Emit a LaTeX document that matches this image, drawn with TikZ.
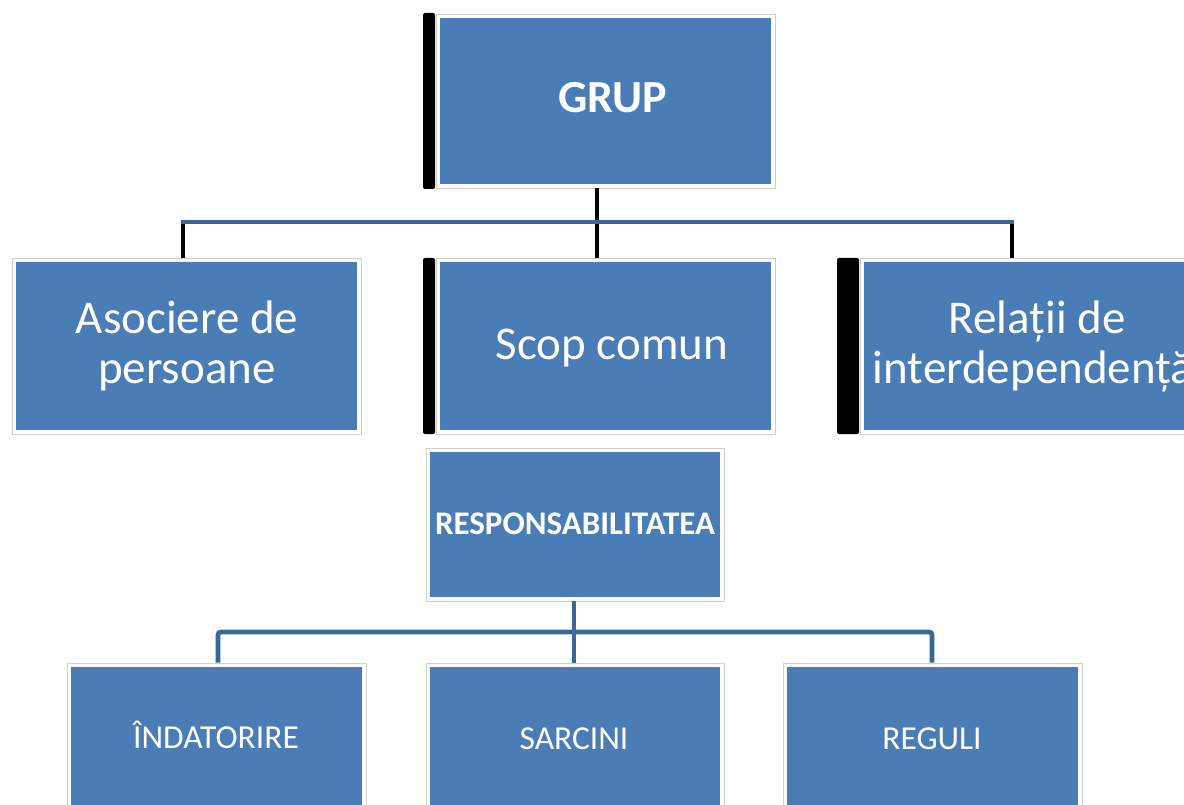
\documentclass[tikz,border=0pt]{standalone}
\usepackage{fontspec}
\setmainfont{Carlito}
\definecolor{boxblue}{HTML}{4A7DB5}
\definecolor{lineblue}{HTML}{3A6896}
\definecolor{framegray}{HTML}{D0D0D0}
\tikzset{
  frame/.style={draw=framegray, line width=0.8pt, fill=white, inner sep=0pt, rectangle},
  bluebox/.style={fill=boxblue, inner sep=0pt, rectangle},
  barbox/.style={fill=black, inner sep=0pt, rectangle, rounded corners=2pt},
  lbl/.style={text=white, inner sep=0pt, anchor=base},
  blkline/.style={draw=black, line width=4.8pt},
  blueline/.style={draw=lineblue, line width=4.8pt},
}
\begin{document}
\begin{tikzpicture}[x=1pt,y=-1pt]
\useasboundingbox (0,0) rectangle (1184,805);
\clip (0,0) rectangle (1184,805);
\fill[white] (0,0) rectangle (1184,805);

% ---- top level
\node[frame, minimum width=339pt, minimum height=174pt] (grupF) at (605.5,101) {};
\node[bluebox, minimum width=331pt, minimum height=166pt] (grup) at (605.5,101) {};
\node[barbox, minimum width=12pt, minimum height=176pt] (grupbar) at (429,101) {};
\node[lbl, font=\fontsize{46}{50}\selectfont\bfseries] (grupT) at (613,113) {GRUP};

% ---- second level
\node[frame, minimum width=349pt, minimum height=176pt] (asocF) at (186.5,346) {};
\node[bluebox, minimum width=341pt, minimum height=168pt] (asoc) at (186.5,346) {};
\node[lbl, font=\fontsize{47}{50}\selectfont] (asocT1) at (187,333) {Asociere de};
\node[lbl, font=\fontsize{47}{50}\selectfont] (asocT2) at (187,383) {persoane};

\node[frame, minimum width=339pt, minimum height=176pt] (scopF) at (605.5,346) {};
\node[bluebox, minimum width=331pt, minimum height=168pt] (scop) at (605.5,346) {};
\node[barbox, minimum width=12pt, minimum height=176pt] (scopbar) at (429,346) {};
\node[lbl, font=\fontsize{47}{50}\selectfont] (scopT) at (612,359) {Scop comun};

\node[frame, minimum width=354pt, minimum height=176pt] (relF) at (1037,346) {};
\node[bluebox, minimum width=346pt, minimum height=168pt] (rel) at (1037,346) {};
\node[barbox, minimum width=22pt, minimum height=176pt] (relbar) at (848,346) {};
\node[lbl, font=\fontsize{47}{50}\selectfont] (relT1) at (1037,333) {Relații de};
\node[lbl, font=\fontsize{47}{50}\selectfont] (relT2) at (1033,383) {interdependență};

% ---- responsabilitatea
\node[frame, minimum width=298pt, minimum height=153pt] (respF) at (575,524.5) {};
\node[bluebox, minimum width=290pt, minimum height=145pt] (resp) at (575,524.5) {};
\node[lbl, font=\fontsize{33}{36}\selectfont\bfseries] (respT) at (575,534) {RESPONSABILITATEA};

% ---- bottom level
\node[frame, minimum width=299pt, minimum height=162pt] (indF) at (216.5,744) {};
\node[bluebox, minimum width=291pt, minimum height=154pt] (ind) at (216.5,744) {};
\node[lbl, font=\fontsize{33.5}{36}\selectfont] (indT) at (216,748) {ÎNDATORIRE};

\node[frame, minimum width=298pt, minimum height=162pt] (sarcF) at (575,744) {};
\node[bluebox, minimum width=290pt, minimum height=154pt] (sarc) at (575,744) {};
\node[lbl, font=\fontsize{33.5}{36}\selectfont] (sarcT) at (574,749) {SARCINI};

\node[frame, minimum width=299pt, minimum height=162pt] (regF) at (932.5,744) {};
\node[bluebox, minimum width=291pt, minimum height=154pt] (reg) at (932.5,744) {};
\node[lbl, font=\fontsize{33.5}{36}\selectfont] (regT) at (932,749) {REGULI};

% ---- top connectors
\coordinate (tl) at (183,222);
\coordinate (tm) at (597,222);
\coordinate (tr) at (1012,222);
\draw[blkline] (grupF.south -| tm) -- (tm) -- (scopF.north -| tm);
\draw[blkline, rounded corners=2pt] (asocF.north -| tl) -- ([yshift=-2pt]tl);
\draw[blkline, rounded corners=2pt] (relF.north -| tr) -- ([yshift=-2pt]tr);
\draw[blueline] ([xshift=-2pt]tl) -- ([xshift=2pt]tr);

% ---- bottom connectors
\coordinate (bl) at (218,632);
\coordinate (bm) at (574,632);
\coordinate (br) at (932,632);
\draw[blueline, rounded corners=3pt] (indF.north -| bl) -- (bl) -- (br) -- (regF.north -| br);
\draw[blueline] (respF.south -| bm) -- (sarcF.north -| bm);
\end{tikzpicture}
\end{document}
